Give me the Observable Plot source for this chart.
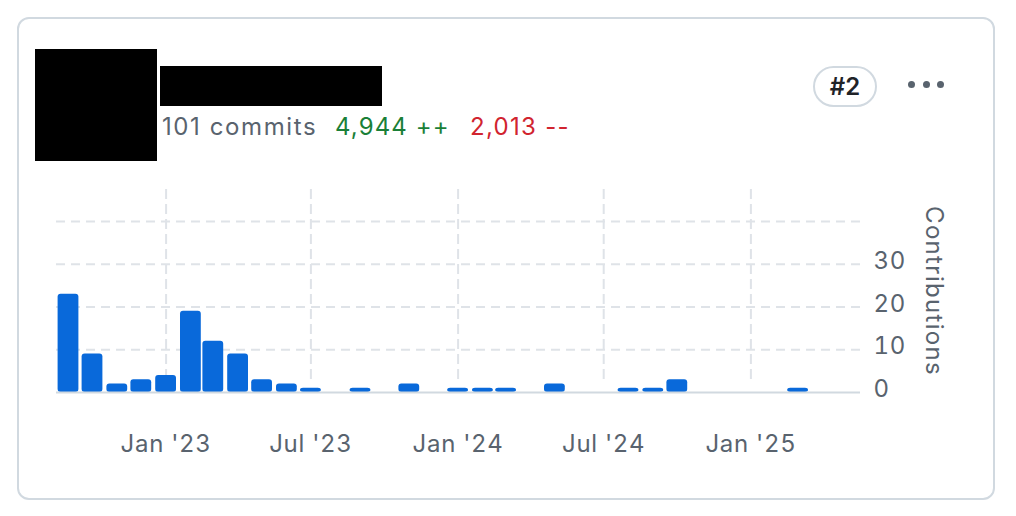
<!DOCTYPE html>
<html>
<head>
<meta charset="utf-8">
<script src="https://cdn.jsdelivr.net/npm/d3@7"></script>
<script src="https://cdn.jsdelivr.net/npm/@observablehq/plot@0.6"></script>
<style>
  html, body { margin: 0; padding: 0; background: #ffffff; width: 1016px; height: 516px; overflow: hidden; }
  body { position: relative; font-family: Inter, "Noto Sans", sans-serif; }
  #card { position: absolute; left: 17px; top: 17px; width: 978px; height: 483px; box-sizing: border-box;
          border: 2px solid #d1d9e0; border-radius: 12px; }
  .redact { position: absolute; background: #000; }
  .stat { position: absolute; top: 115px; font-size: 24px; line-height: 24px; white-space: nowrap; }
  #commits { left: 162px; color: #59636e; letter-spacing: 1.6px; }
  #adds { left: 335px; color: #1a7f37; letter-spacing: 1.1px; }
  #dels { left: 470px; color: #d1242f; letter-spacing: 1.3px; }
  #badge { position: absolute; left: 813px; top: 66px; width: 64px; height: 41px; box-sizing: border-box;
           border: 2px solid #d1d9e0; border-radius: 21px; display: flex; align-items: center; justify-content: center;
           font-size: 24px; font-weight: 600; color: #1f2328; }
  .dot { position: absolute; top: 81px; width: 7px; height: 7px; border-radius: 50%; background: #59636e; }
  #chart { position: absolute; left: 0; top: 180px; }
  #chart svg text { letter-spacing: 0.7px; }
</style>
</head>
<body>
<div id="card"></div>
<div class="redact" style="left:35px;top:49px;width:122px;height:112px;"></div>
<div class="redact" style="left:160px;top:66px;width:222px;height:40px;"></div>
<div id="commits" class="stat"></div>
<div id="adds" class="stat"></div>
<div id="dels" class="stat"></div>
<div id="badge"></div>
<div class="dot" style="left:908px;"></div>
<div class="dot" style="left:923px;"></div>
<div class="dot" style="left:937px;"></div>
<div id="chart"></div>
<script>
// ---- data ----
const months = [
  "2022-09-01","2022-10-01","2022-11-01","2022-12-01",
  "2023-01-01","2023-02-01","2023-03-01","2023-04-01","2023-05-01","2023-06-01",
  "2023-07-01","2023-08-01","2023-09-01","2023-10-01","2023-11-01","2023-12-01",
  "2024-01-01","2024-02-01","2024-03-01","2024-04-01","2024-05-01","2024-06-01",
  "2024-07-01","2024-08-01","2024-09-01","2024-10-01","2024-11-01","2024-12-01",
  "2025-01-01","2025-02-01","2025-03-01"
];
const contributions = [
  23, 9, 2, 3,
  4, 19, 12, 9, 3, 2,
  1, 0, 1, 0, 2, 0,
  1, 1, 1, 0, 2, 0,
  0, 1, 1, 3, 0, 0,
  0, 0, 1
];
const xTickDates = ["2023-01-01","2023-07-01","2024-01-01","2024-07-01","2025-01-01"];
const xTickLabels = ["Jan '23","Jul '23","Jan '24","Jul '24","Jan '25"];
const yTicks = [0, 10, 20, 30];
const yGrid = [10, 20, 30, 40];
const yLabel = "Contributions";
const xDomain = ["2022-08-17","2025-05-18"];
const yMax = 47.5;
const commitsText = "101 commits";
const addsText = "4,944 ++";
const delsText = "2,013 --";
const rankText = "#2";

document.getElementById("commits").textContent = commitsText;
document.getElementById("adds").textContent = addsText;
document.getElementById("dels").textContent = delsText;
document.getElementById("badge").textContent = rankText;

const utc = s => new Date(s + "T00:00:00Z");
const data = months.map((m, i) => ({date: utc(m), value: contributions[i]}));
const ticks = xTickDates.map(utc);
const labelOf = new Map(ticks.map((d, i) => [+d, xTickLabels[i]]));
const halfBarDays = 13;

const gridColor = "#dfe3e8";
const chart = Plot.plot({
  width: 1016,
  height: 300,
  marginLeft: 56,
  marginRight: 156,
  marginTop: 9,
  marginBottom: 88,
  style: {background: "transparent", fontFamily: "Inter, 'Noto Sans', sans-serif", fontSize: "24px", color: "#59636e", overflow: "visible"},
  x: {type: "utc", domain: xDomain.map(utc)},
  y: {domain: [0, yMax]},
  marks: [
    Plot.ruleY(yGrid, {stroke: gridColor, strokeWidth: 2, strokeDasharray: "9,6"}),
    Plot.ruleX(ticks, {x: d => d, stroke: gridColor, strokeWidth: 2, strokeDasharray: "10,5", insetBottom: 8}),
    Plot.rectY(data.filter(d => d.value > 0), {
      x1: d => d3.utcDay.offset(d.date, -halfBarDays),
      x2: d => d3.utcDay.offset(d.date, halfBarDays),
      y: "value",
      fill: "#0969da",
      rx: 3
    }),
    Plot.ruleY([0], {stroke: "#d1d9e0", strokeWidth: 2}),
    Plot.axisX(ticks, {tickSize: 0, tickPadding: 42, tickFormat: d => labelOf.get(+d), fontSize: 24}),
    Plot.axisY(yTicks, {anchor: "right", tickSize: 0, tickPadding: 13, label: null, dy: -3, fontSize: 24}),
    Plot.text([yLabel], {frameAnchor: "right", textAnchor: "middle", rotate: 90, dx: 73, fontSize: 24, fill: "#59636e"})
  ]
});
// widen the rotated axis title slightly to match the reference's letter spacing
d3.select(chart).selectAll("text").filter(function() { return this.textContent === yLabel; })
  .style("letter-spacing", "1.3px");
document.getElementById("chart").appendChild(chart);
</script>
</body>
</html>
